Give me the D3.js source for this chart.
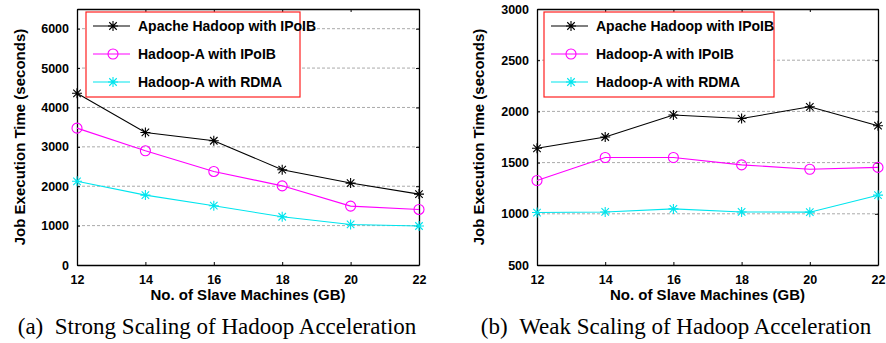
<!DOCTYPE html>
<html>
<head>
<meta charset="utf-8">
<script src="https://cdn.jsdelivr.net/npm/d3@7"></script>
<style>
    body { margin: 0; background: #fff; }
    text { font-family: "Liberation Sans", Arial, sans-serif; }
    .tick text, .axisTitle, .legendText { font-weight: bold; }
    .caption { font-family: "Liberation Serif", "Times New Roman", serif; font-size: 23px; }
</style>
</head>
<body>
<div id="chart"></div>
<script>
// data
const machines = [12, 14, 16, 18, 20, 22];
const seriesNames = ["Apache Hadoop with IPoIB", "Hadoop-A with IPoIB", "Hadoop-A with RDMA"];
const strongApache = [4360, 3365, 3155, 2420, 2080, 1800];
const strongIpoib = [3475, 2900, 2375, 2010, 1495, 1410];
const strongRdma = [2125, 1775, 1505, 1225, 1030, 990];
const weakApache = [1640, 1750, 1965, 1930, 2045, 1860];
const weakIpoib = [1325, 1550, 1550, 1478, 1435, 1453];
const weakRdma = [1012, 1018, 1048, 1018, 1016, 1182];
const strongTicks = [0, 1000, 2000, 3000, 4000, 5000, 6000];
const weakTicks = [500, 1000, 1500, 2000, 2500, 3000];

// constants
const WIDTH = 886;
const HEIGHT = 343;
const PLOT_TOP = 9;
const PLOT_BOTTOM = 265;
const COLOURS = ["#000000", "#ff00ff", "#00e5ee"];
const MARKERS = ["star", "circle", "star"];

const svg = d3.select("#chart").append("svg")
    .attr("width", WIDTH)
    .attr("height", HEIGHT);

drawPanel({
    left: 77, right: 419, yDomain: [0, 6500], yTicks: strongTicks,
    series: [strongApache, strongIpoib, strongRdma],
    legend: [86, 12, 300, 97], titleX: 20,
    caption: "(a)\u2002Strong Scaling of Hadoop Acceleration", captionX: 217
});
drawPanel({
    left: 537, right: 878, yDomain: [500, 3000], yTicks: weakTicks,
    series: [weakApache, weakIpoib, weakRdma],
    legend: [544, 12, 774, 97], titleX: 479,
    caption: "(b)\u2002Weak Scaling of Hadoop Acceleration", captionX: 676
});

function drawMarker(g, type, colour) {
    if (type === "circle") {
        g.append("circle")
            .attr("r", 5)
            .attr("fill", "none")
            .attr("stroke", colour)
            .attr("stroke-width", 1.1);
    } else {
        const s = 5;
        g.append("path")
            .attr("d", `M${-s},0H${s}M0,${-s}V${s}M${-s*0.75},${-s*0.75}L${s*0.75},${s*0.75}M${-s*0.75},${s*0.75}L${s*0.75},${-s*0.75}`)
            .attr("stroke", colour)
            .attr("stroke-width", 1.1);
    }
}

function drawPanel(p) {
    const x = d3.scaleLinear().domain([12, 22]).range([p.left, p.right]);
    const y = d3.scaleLinear().domain(p.yDomain).range([PLOT_BOTTOM, PLOT_TOP]);
    const g = svg.append("g");

    // grid
    g.append("g").selectAll("line")
        .data(p.yTicks.filter(t => t > p.yDomain[0] && t < p.yDomain[1]))
        .join("line")
        .attr("x1", p.left).attr("x2", p.right)
        .attr("y1", d => y(d)).attr("y2", d => y(d))
        .attr("stroke", "#aaa")
        .attr("stroke-width", 1)
        .attr("stroke-dasharray", "3,2");

    // axes (ticks inward, mirrored like gnuplot)
    const fmt = d3.format("d");
    const xAxis = g.append("g").attr("transform", `translate(0,${PLOT_BOTTOM})`)
        .call(d3.axisBottom(x).tickValues(machines).tickSizeInner(-3).tickSizeOuter(0).tickPadding(10).tickFormat(fmt));
    g.append("g").attr("transform", `translate(0,${PLOT_TOP})`)
        .call(d3.axisTop(x).tickValues(machines).tickSizeInner(-3).tickSizeOuter(0).tickFormat(""));
    const yAxis = g.append("g").attr("transform", `translate(${p.left},0)`)
        .call(d3.axisLeft(y).tickValues(p.yTicks).tickSizeInner(-3).tickSizeOuter(0).tickPadding(8).tickFormat(fmt));
    g.append("g").attr("transform", `translate(${p.right},0)`)
        .call(d3.axisRight(y).tickValues(p.yTicks).tickSizeInner(-3).tickSizeOuter(0).tickFormat(""));
    g.selectAll(".domain").attr("stroke", "#000").attr("stroke-width", 1.3);
    g.selectAll(".tick line").attr("stroke", "#000");
    xAxis.selectAll("text").attr("font-size", 12.5).attr("fill", "#000");
    yAxis.selectAll("text").attr("font-size", 12.5).attr("fill", "#000");

    // lines and markers
    const line = d3.line().x((d, i) => x(machines[i])).y(d => y(d));
    p.series.forEach((vals, k) => {
        g.append("path")
            .datum(vals)
            .attr("d", line)
            .attr("fill", "none")
            .attr("stroke", COLOURS[k])
            .attr("stroke-width", 1.1);
        vals.forEach((v, i) => {
            const m = g.append("g").attr("transform", `translate(${x(machines[i])},${y(v)})`);
            drawMarker(m, MARKERS[k], COLOURS[k]);
        });
    });

    // legend
    const [lx0, ly0, lx1, ly1] = p.legend;
    g.append("rect")
        .attr("x", lx0).attr("y", ly0)
        .attr("width", lx1 - lx0).attr("height", ly1 - ly0)
        .attr("fill", "#fff")
        .attr("stroke", "#ff2020")
        .attr("stroke-width", 1.2);
    seriesNames.forEach((name, k) => {
        const ry = ly0 + 14 + k * 28;
        g.append("line")
            .attr("x1", lx0 + 7).attr("x2", lx0 + 44)
            .attr("y1", ry).attr("y2", ry)
            .attr("stroke", COLOURS[k])
            .attr("stroke-width", 1.1);
        const m = g.append("g").attr("transform", `translate(${lx0 + 27},${ry})`);
        drawMarker(m, MARKERS[k], COLOURS[k]);
        g.append("text")
            .attr("class", "legendText")
            .attr("x", lx0 + 52).attr("y", ry + 5)
            .attr("font-size", 14)
            .text(name);
    });

    // titles
    g.append("text")
        .attr("class", "axisTitle")
        .attr("x", (p.left + p.right) / 2).attr("y", 300)
        .attr("text-anchor", "middle")
        .attr("font-size", 15)
        .text("No. of Slave Machines (GB)");
    g.append("text")
        .attr("class", "axisTitle")
        .attr("transform", `translate(${p.titleX},${(PLOT_TOP + PLOT_BOTTOM) / 2}) rotate(-90)`)
        .attr("text-anchor", "middle")
        .attr("dy", "0.35em")
        .attr("font-size", 15)
        .text("Job Execution Time (seconds)");
    g.append("text")
        .attr("class", "caption")
        .attr("x", p.captionX).attr("y", 334)
        .attr("text-anchor", "middle")
        .text(p.caption);
}
</script>
</body>
</html>
